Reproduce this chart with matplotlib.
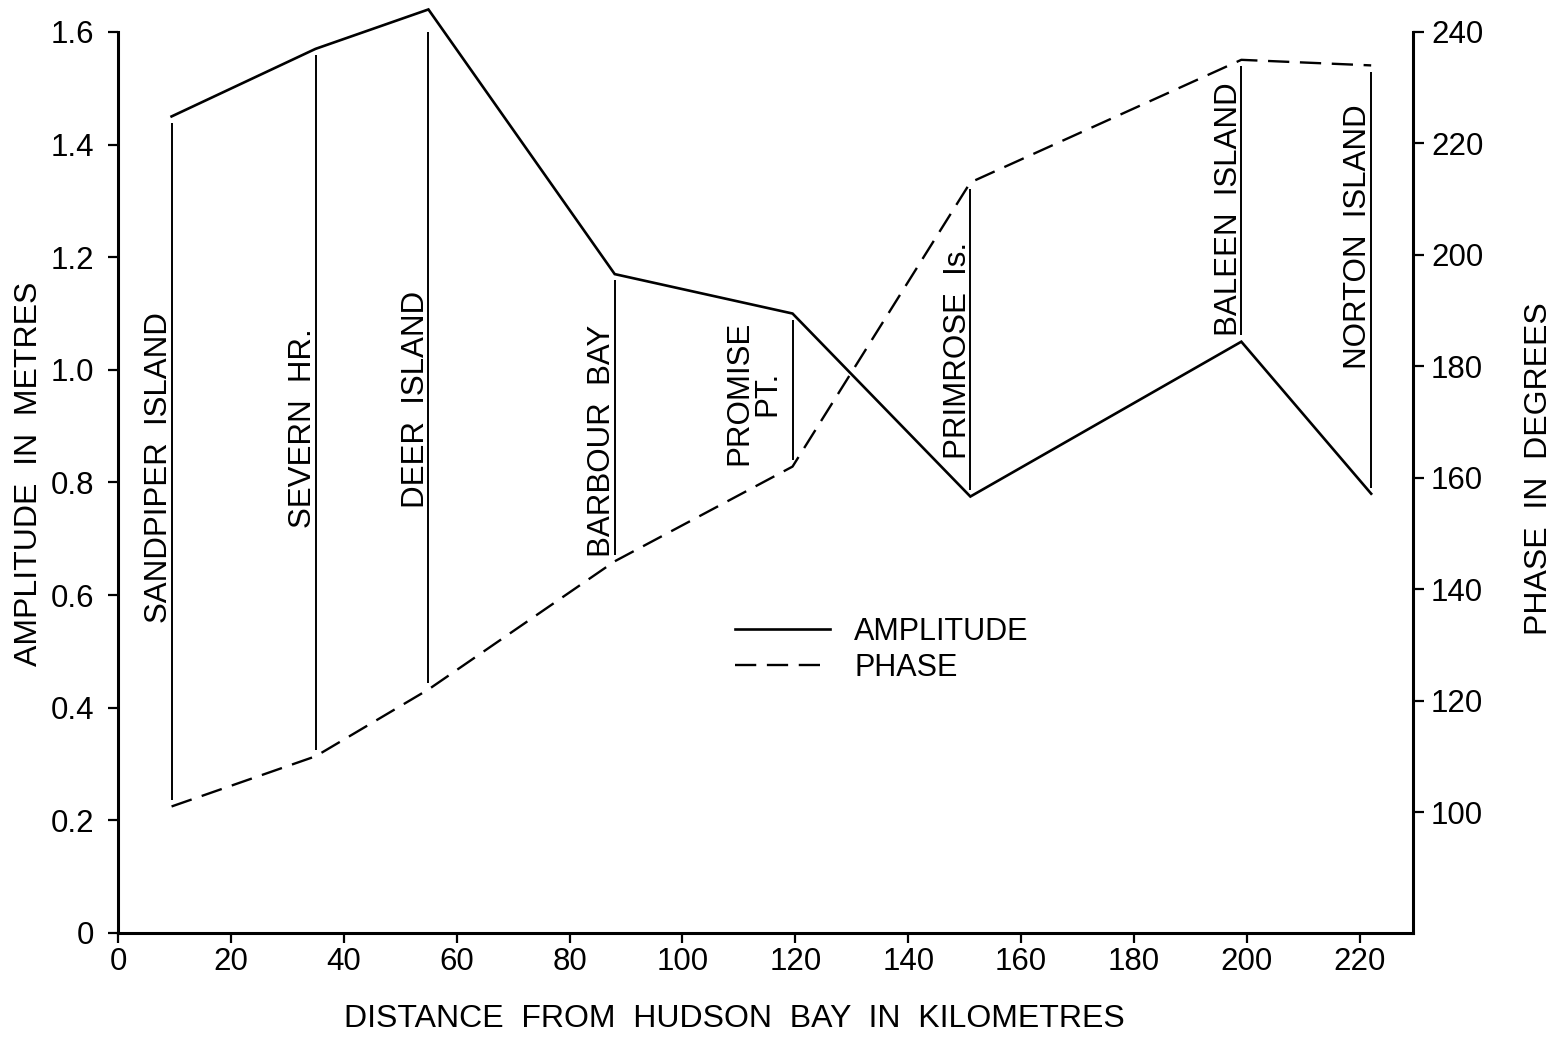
import numpy as np
import matplotlib.pyplot as plt

plt.rcParams['font.family'] = ['Liberation Sans', 'DejaVu Sans']

# tide gauge stations along the estuary
stations = ['SANDPIPER  ISLAND', 'SEVERN  HR.', 'DEER  ISLAND', 'BARBOUR  BAY',
            'PROMISE\nPT.', 'PRIMROSE  Is.', 'BALEEN  ISLAND', 'NORTON  ISLAND']
distance = [9.5, 35, 55, 88, 119.5, 151, 199, 222]      # km
amplitude = [1.45, 1.57, 1.64, 1.17, 1.10, 0.775, 1.05, 0.78]  # m
phase = [101, 110, 122, 145, 162, 213, 235, 234]          # degrees

x_ticks = [0, 20, 40, 60, 80, 100, 120, 140, 160, 180, 200, 220]
amp_ticks = [0, 0.2, 0.4, 0.6, 0.8, 1.0, 1.2, 1.4, 1.6]
amp_labels = ['0', '0.2', '0.4', '0.6', '0.8', '1.0', '1.2', '1.4', '1.6']
phase_ticks = [100, 120, 140, 160, 180, 200, 220, 240]

# label placement: centre height (amplitude units) and x offset (points)
label_y = [0.826, 0.897, 0.948, 0.874, 0.959, 1.034, 1.286, 1.236]
label_dx = [2, 2, 2, 2, -7, 2, 2, 1]

fs = 22.5

fig = plt.figure(figsize=(15.58, 10.38), dpi=100)
ax = fig.add_axes([0.0757, 0.1012, 0.8312, 0.868])
ax2 = ax.twinx()

ax.set_xlim(0, 229.4)
ax.set_ylim(0, 1.6)
ax2.set_ylim(78.3, 240)

amp_line, = ax.plot(distance, amplitude, color='black', lw=1.9, clip_on=False,
                    solid_joinstyle='miter')
phase_line, = ax2.plot(distance, phase, color='black', lw=1.7, clip_on=False)
phase_line.set_dashes((9, 4.5))

# vertical station lines, from the amplitude curve to the phase curve
pts = ax2.transData.transform(np.column_stack([distance, phase]))
phase_in_amp = ax.transData.inverted().transform(pts)[:, 1]
gap = 0.011
tops = np.maximum(amplitude, phase_in_amp) - gap
bots = np.minimum(amplitude, phase_in_amp) + gap
ax.vlines(distance, bots, tops, color='black', lw=1.4)

for d, name, ly, dx in zip(distance, stations, label_y, label_dx):
    ax.annotate(name, xy=(d, ly), xytext=(dx, 0), textcoords='offset points',
                rotation=90, ha='right', va='center', multialignment='center',
                linespacing=0.95, fontsize=fs)

for a in (ax, ax2):
    a.spines['top'].set_visible(False)
ax.spines['right'].set_visible(False)
ax2.spines['left'].set_visible(False)
ax2.spines['bottom'].set_visible(False)
for s in ('left', 'bottom'):
    ax.spines[s].set_linewidth(2.2)
ax2.spines['right'].set_linewidth(2.2)

ax.set_xticks(x_ticks)
ax.set_yticks(amp_ticks)
ax.set_yticklabels(amp_labels)
ax2.set_yticks(phase_ticks)
ax.tick_params(axis='both', direction='out', length=7, width=1.6, labelsize=fs)
ax.tick_params(axis='y', pad=10)
ax.tick_params(axis='x', pad=3)
ax2.tick_params(axis='y', direction='out', length=8, width=1.6, labelsize=fs, pad=5)

ax.text(-0.069, 0.51, 'AMPLITUDE  IN  METRES', transform=ax.transAxes, rotation=90,
        ha='center', va='center', fontsize=23)
ax.text(1.097, 0.515, 'PHASE  IN  DEGREES', transform=ax.transAxes, rotation=90,
        ha='center', va='center', fontsize=23)
ax.text(0.476, -0.095, 'DISTANCE  FROM  HUDSON  BAY  IN  KILOMETRES',
        transform=ax.transAxes, ha='center', va='center', fontsize=23)

ax.legend([amp_line, phase_line], ['AMPLITUDE', 'PHASE'], frameon=False,
          loc='upper left', bbox_to_anchor=(735 / 1558, 1 - 617 / 1038),
          bbox_transform=fig.transFigure, fontsize=22, handlelength=3.1,
          handletextpad=0.8, labelspacing=0.18, borderpad=0, borderaxespad=0)

fig.savefig('out.png', dpi=100, facecolor='white')
